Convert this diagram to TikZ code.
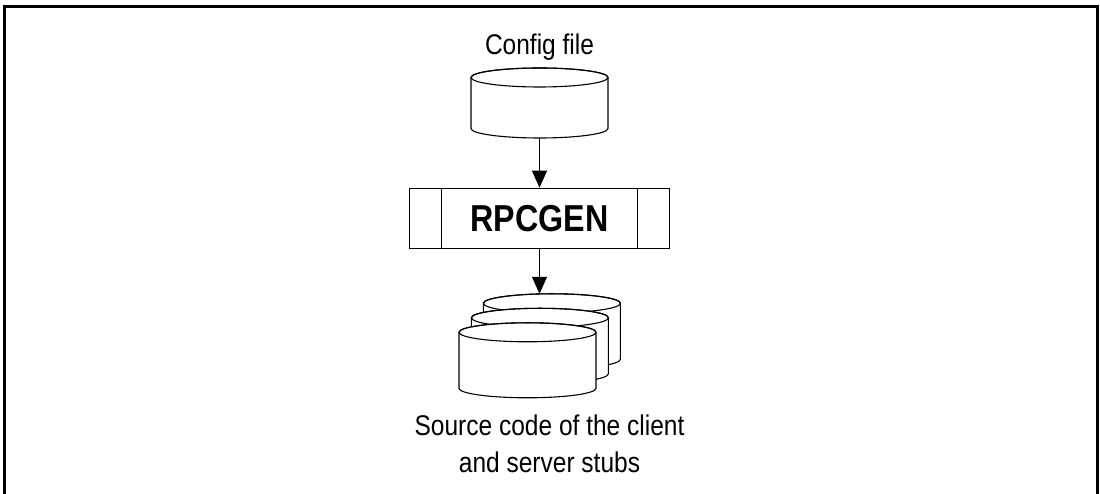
\documentclass[tikz,border=0pt]{standalone}
\usepackage{fontspec}
\setmainfont[FakeStretch=0.86]{Liberation Sans}
\usetikzlibrary{arrows.meta}
\usetikzlibrary{positioning}

\newcommand\cylbody[1]{%
  \begin{scope}[shift={(path picture bounding box.center)}]
    \draw[fill=white, line width=1.1pt]
      (-68.5pt,{(#1/2-9.5)*1pt}) -- (-68.5pt,{(-#1/2+9.5)*1pt})
      arc[start angle=180, end angle=360, x radius=68.5pt, y radius=9.5pt]
      -- (68.5pt,{(#1/2-9.5)*1pt})
      arc[start angle=0, end angle=180, x radius=68.5pt, y radius=9.5pt] -- cycle;
    \draw[line width=1.1pt] (0pt,{(#1/2-9.5)*1pt})
      ellipse [x radius=68.5pt, y radius=9.5pt];
  \end{scope}}

\tikzset{
  dbase/.style={rectangle, minimum width=140pt, minimum height=#1pt+3pt,
    inner sep=0pt, outer sep=-1.5pt, path picture={\cylbody{#1}}},
  dbase/.default=70,
  procbox/.style={draw, line width=1.1pt, minimum width=260pt,
    minimum height=60pt, inner sep=0pt,
    font=\fontsize{37.5}{40}\selectfont\bfseries,
    path picture={
      \draw[line width=1.1pt] ([xshift=32pt]path picture bounding box.north west)
        -- ([xshift=32pt]path picture bounding box.south west);
      \draw[line width=1.1pt] ([xshift=-32pt]path picture bounding box.north east)
        -- ([xshift=-32pt]path picture bounding box.south east);
    }},
  flow/.style={-{Triangle[length=17pt,width=15pt]}, line width=1.1pt},
  lbl/.style={inner sep=0pt, align=center, font=\fontsize{28.5}{36.7}\selectfont}
}

\begin{document}
\begin{tikzpicture}[x=1pt,y=1pt]
    \useasboundingbox (0,0) rectangle (1100,494);
    \draw[line width=3pt] (4,-10) rectangle (1097,487);

    \node (config) [dbase] at (539.5,391) {};
    \node (cfglbl) [lbl, above=7pt of config] {Config file};
    \node (rpcgen) [procbox, below=49.7pt of config] {RPCGEN};

    % stack of three, back one first
    \node (src3) [dbase=75, below=45pt of rpcgen, xshift=12.4pt] {};
    \node (src2) [dbase=75, below left=14.5pt and 12pt of src3.center, anchor=center] {};
    \node (src1) [dbase=75, below left=14.5pt and 12.4pt of src2.center, anchor=center] {};
    \node (srclbl) [lbl, below=17pt of src1, xshift=22pt] {Source code of the client\\and server stubs};

    \draw[flow] (config) -- (rpcgen);
    \draw[flow] (rpcgen) -- (rpcgen.south |- src3.north);
\end{tikzpicture}
\end{document}
